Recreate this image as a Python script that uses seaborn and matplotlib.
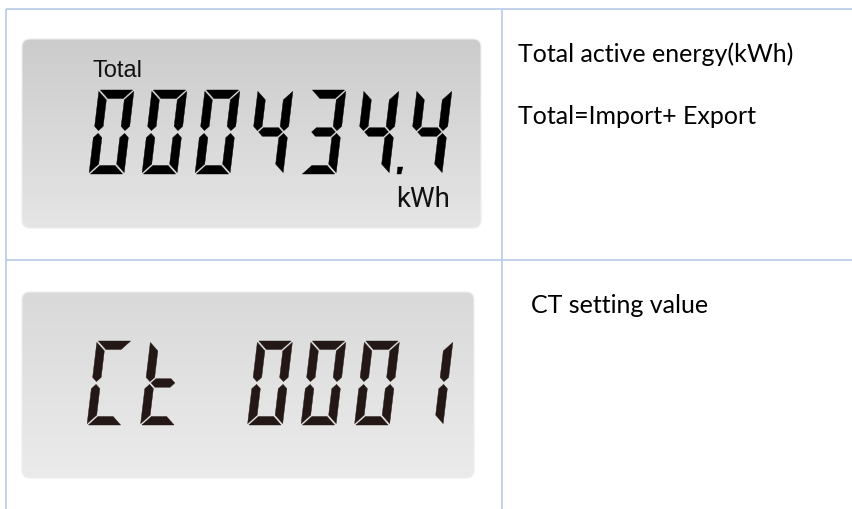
import numpy as np
import matplotlib
matplotlib.use("Agg")
import matplotlib.pyplot as plt
import seaborn as sns
from matplotlib import font_manager
from matplotlib.patches import FancyBboxPatch, Polygon
from matplotlib.colors import LinearSegmentedColormap

# readings shown on the two LCD panels
top_reading = "0004344"       # seven digits
top_decimal_after = 5         # decimal point after the 6th digit -> 000434.4
top_label = "Total"
top_unit = "kWh"
bottom_reading = "Ct 0001"

# descriptions in the right-hand column
top_notes = ["Total active energy(kWh)", "Total=Import+ Export"]
bottom_notes = ["CT setting value"]

# seven-segment map
SEGMENTS = {
    "0": "abcdef", "1": "bc", "2": "abdeg", "3": "abcdg", "4": "bcfg",
    "5": "acdfg", "6": "acdefg", "7": "abc", "8": "abcdefg", "9": "abcdfg",
    "C": "adef", "t": "defg", " ": "",
}

W, H, T, G, SLANT = 35.0, 84.0, 8.5, 1.4, 10.0 / 84.0


def to_screen(x0, y0, pts):
    return [(x0 + u + (H - v) * SLANT, y0 + v) for u, v in pts]


def segment_shapes():
    m, h = H / 2, T / 2
    return {
        "a": [(G, 0), (W - G, 0), (W - T - G, T), (T + G, T)],
        "d": [(G, H), (W - G, H), (W - T - G, H - T), (T + G, H - T)],
        "g": [(h + G, m), (T + G, m - h), (W - T - G, m - h), (W - h - G, m),
              (W - T - G, m + h), (T + G, m + h)],
        "f": [(0, G), (T, T + G), (T, m - h - G), (h, m - G), (0, m - h - G)],
        "e": [(0, H - G), (T, H - T - G), (T, m + h + G), (h, m + G), (0, m + h + G)],
        "b": [(W, G), (W - T, T + G), (W - T, m - h - G), (W - h, m - G), (W, m - h - G)],
        "c": [(W, H - G), (W - T, H - T - G), (W - T, m + h + G), (W - h, m + G), (W, m + h + G)],
    }


def draw_reading(ax, text, x_start, y_top, pitch, color, dot_after=None):
    shapes = segment_shapes()
    for i, ch in enumerate(text):
        x0 = x_start + i * pitch
        for seg in SEGMENTS[ch]:
            ax.add_patch(Polygon(to_screen(x0, y_top, shapes[seg]), closed=True,
                                 facecolor=color, edgecolor=color, lw=0.3))
        if dot_after is not None and i == dot_after:
            dot = [(W + 8, H - 7), (W + 13, H - 7), (W + 12, H), (W + 8, H)]
            ax.add_patch(Polygon(to_screen(x0, y_top, dot), closed=True,
                                 facecolor=color, edgecolor=color, lw=0.3))


def lcd_panel(ax, x0, y0, x1, y1, c_top, c_bottom):
    box = FancyBboxPatch((x0, y0), x1 - x0, y1 - y0,
                         boxstyle="round,pad=0,rounding_size=8",
                         facecolor="none", edgecolor="#eeeeee", lw=0.8)
    ax.add_patch(box)
    cmap = LinearSegmentedColormap.from_list("lcd", [c_top, c_bottom])
    grad = np.linspace(0, 1, 128).reshape(-1, 1)
    im = ax.imshow(grad, cmap=cmap, extent=(x0, x1, y1, y0), aspect="auto",
                   interpolation="bilinear", zorder=0)
    im.set_clip_path(box)


sns.set_theme(style="white")
names = {f.name for f in font_manager.fontManager.ttflist}
unit_font = "Roboto" if "Roboto" in names else "Liberation Sans"
body_font = "Lato" if "Lato" in names else "DejaVu Sans"

fig = plt.figure(figsize=(8.53, 5.10), dpi=100)
ax = fig.add_axes([0, 0, 1, 1])

# table grid
grid = "#b7cbe5"
ax.plot([6, 853], [10, 10], color=grid, lw=1.2, solid_capstyle="butt")
ax.plot([6, 853], [261, 261], color=grid, lw=1.2, solid_capstyle="butt")
ax.plot([6.5, 6.5], [10, 510], color=grid, lw=1.2, solid_capstyle="butt")
ax.plot([502, 502], [10, 510], color=grid, lw=1.2, solid_capstyle="butt")

# top LCD
lcd_panel(ax, 22, 40, 481, 229, "#cccccc", "#e5e5e5")
ax.text(93, 77, top_label, family="Liberation Sans", fontsize=17,
        color="#111111", va="baseline", ha="left")
draw_reading(ax, top_reading, 89, 91, 53, "#000000", dot_after=top_decimal_after)
ax.text(396, 207, top_unit, family=unit_font, fontsize=20, color="#111111",
        va="baseline", ha="left")

# bottom LCD
lcd_panel(ax, 22, 293, 474, 479, "#d9d9d9", "#ebebeb")
draw_reading(ax, bottom_reading, 87, 342, 53.5, "#231815")

# descriptions
for note, y in zip(top_notes, [62, 124]):
    ax.text(518, y, note, family=body_font, fontsize=18, color="#000000",
            va="baseline", ha="left")
for note, y in zip(bottom_notes, [313]):
    ax.text(531, y, note, family=body_font, fontsize=18, color="#000000",
            va="baseline", ha="left")

ax.set_xlim(0, 853)
ax.set_ylim(510, 0)
ax.axis("off")
fig.savefig("out.png", dpi=100)
